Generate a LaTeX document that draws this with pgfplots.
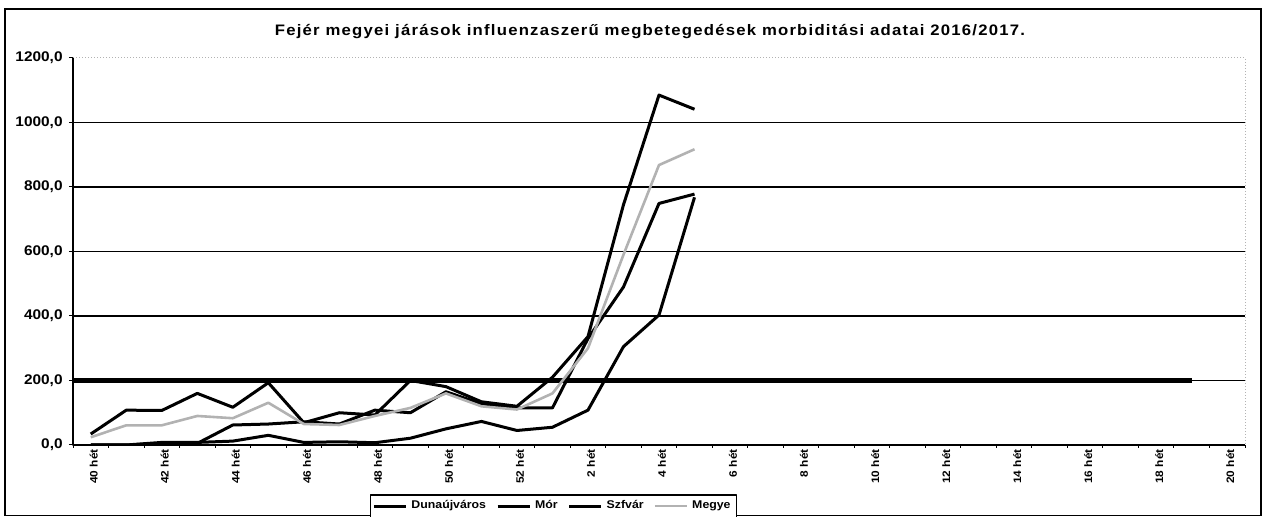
\documentclass[border=0pt]{standalone}
\usepackage{fontspec}
\setmainfont{Liberation Sans}[FakeStretch=1.1]
\newfontfamily\titlefont{Liberation Sans}[FakeStretch=1.1, LetterSpace=8]
\usepackage{pgfplots}
\pgfplotsset{compat=1.18}
\begin{document}
\begin{tikzpicture}
\useasboundingbox (0pt,0pt) rectangle (635pt,258.5pt);
\draw[black, line width=0.75pt] (2.5pt,0.75pt) rectangle (630.5pt,254pt);
\node[font=\titlefont\bfseries\fontsize{7.6}{9}\selectfont, inner sep=0pt] at (325pt,242.5pt) {Fejér megyei járások influenzaszerű megbetegedések morbiditási adatai 2016/2017.};
\begin{axis}[
  at={(36.5pt,36pt)}, anchor=south west,
  scale only axis, width=586pt, height=193.5pt,
  xmin=-0.5, xmax=32.5, ymin=0, ymax=1200,
  xtick={0,2,...,32},
  xticklabels={40 hét,42 hét,44 hét,46 hét,48 hét,50 hét,52 hét,2 hét,4 hét,6 hét,8 hét,10 hét,12 hét,14 hét,16 hét,18 hét,20 hét},
  minor xtick={-0.5,0.5,...,32.5},
  ytick={0,200,...,1000},
  yticklabels={0{,}0,200{,}0,400{,}0,600{,}0,800{,}0,1000{,}0},
  extra y ticks={1200}, extra y tick labels={1200{,}0},
  extra y tick style={grid=none},
  ymajorgrids, major grid style={black, line width=0.6pt},
  tick pos=left, tick align=outside,
  major tick length=2pt, minor tick length=1.5pt,
  major x tick style={draw=none},
  minor x tick style={black, line width=0.5pt},
  ytick style={black, line width=0.5pt},
  axis line style={gray!60, densely dotted, line width=0.5pt},
  yticklabel style={font=\bfseries\fontsize{7}{8}\selectfont, inner sep=0pt, xshift=-3pt},
  xticklabel style={font=\bfseries\fontsize{5.4}{6}\selectfont, rotate=90, anchor=east, inner sep=0pt, yshift=-1.5pt},
  legend style={at={(0.41,-0.158)}, anchor=center, legend columns=4, draw=black, line width=0.6pt,
    font=\bfseries\fontsize{5.6}{6}\selectfont, inner sep=0.8pt,
    /tikz/every even column/.append style={column sep=3pt}},
  legend image code/.code={\draw[#1] (0pt,0pt) -- (16pt,0pt);},
  clip mode=individual,
  line join=round,
]
\addplot[black, line width=2.4pt, forget plot] coordinates {(-0.5,200) (31,200)};
\addplot[black, line width=1.5pt] coordinates {
(0,34) (1,108) (2,107) (3,160) (4,117) (5,193) (6,69) (7,100) (8,93) (9,200)
(10,181) (11,134) (12,120) (13,210) (14,336) (15,745) (16,1085) (17,1041)};
\addlegendentry{Dunaújváros}
\addplot[black, line width=1.5pt] coordinates {
(0,0) (1,0) (2,8) (3,8) (4,12) (5,30) (6,8) (7,10) (8,7) (9,21)
(10,50) (11,73) (12,45) (13,55) (14,108) (15,305) (16,403) (17,768)};
\addlegendentry{Mór}
\addplot[black, line width=1.5pt] coordinates {
(0,0) (1,0) (2,5) (3,5) (4,62) (5,65) (6,72) (7,65) (8,108) (9,100)
(10,165) (11,128) (12,115) (13,115) (14,330) (15,490) (16,749) (17,778)};
\addlegendentry{Szfvár}
\addplot[gray!60, line width=1.3pt] coordinates {
(0,24) (1,61) (2,61) (3,90) (4,83) (5,131) (6,65) (7,62) (8,90) (9,115)
(10,160) (11,120) (12,110) (13,160) (14,300) (15,590) (16,868) (17,917)};
\addlegendentry{Megye}
\draw[black, line width=0.7pt] (rel axis cs:0,1) -- (rel axis cs:0,0) -- (rel axis cs:1,0);
\end{axis}
\end{tikzpicture}
\end{document}
